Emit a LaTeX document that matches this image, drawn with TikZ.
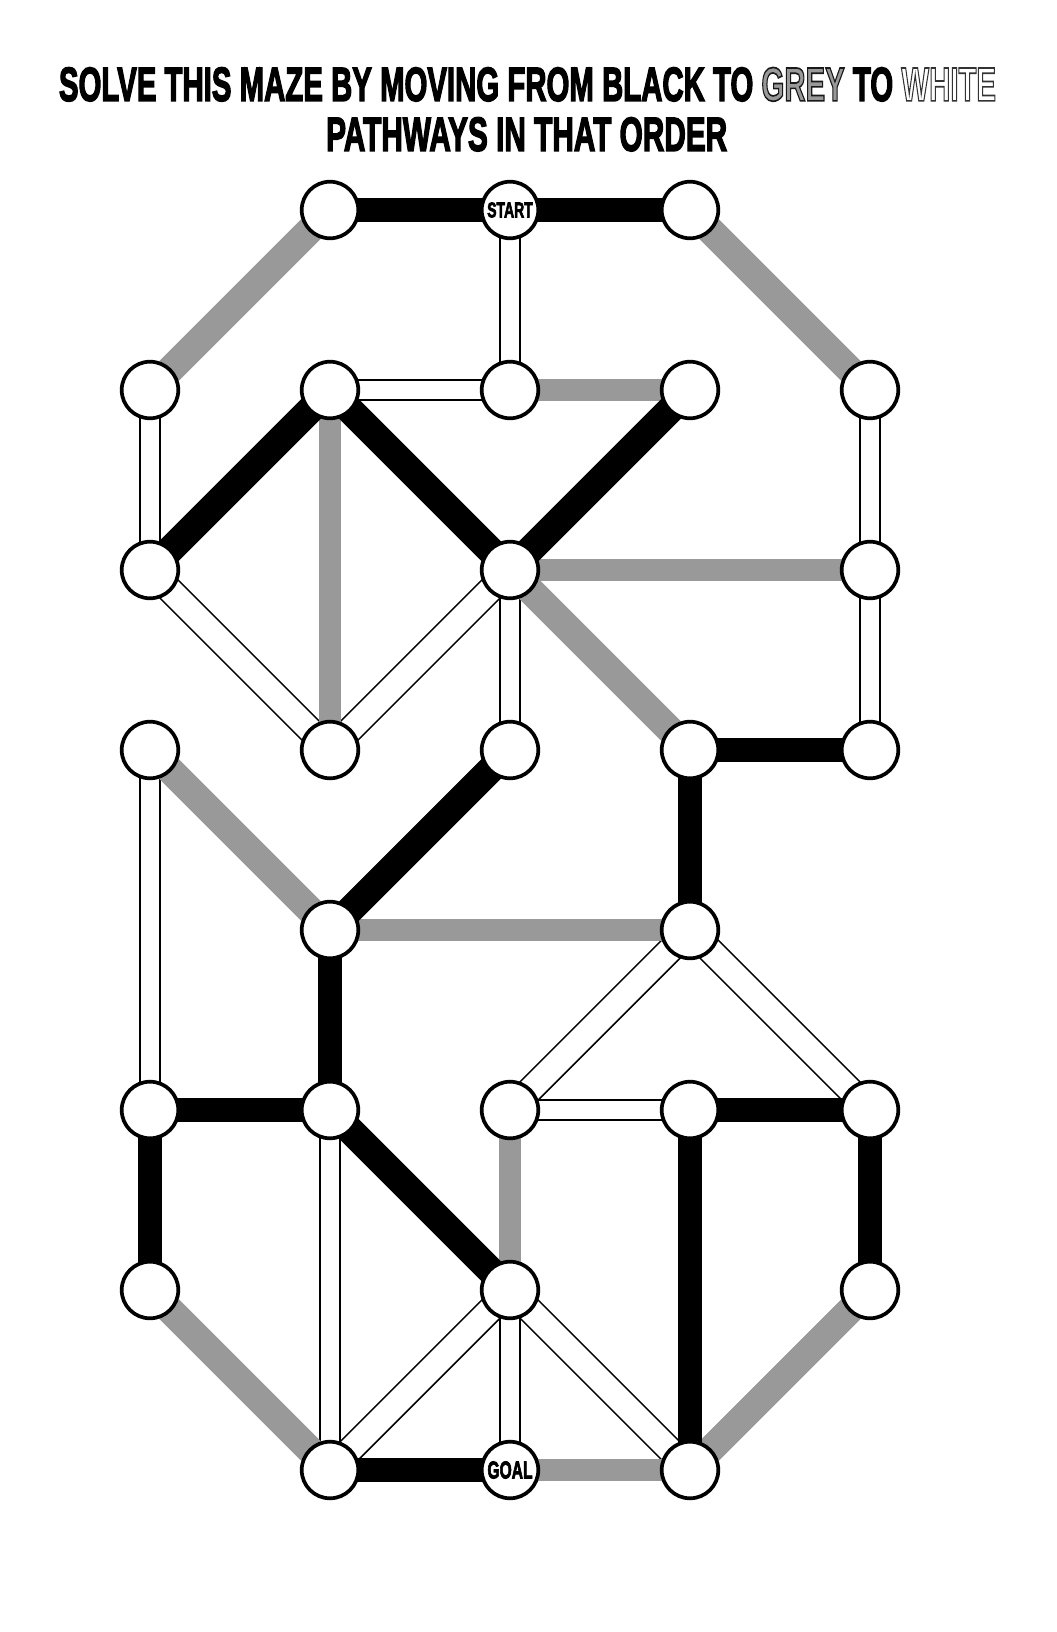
\documentclass[tikz,border=0pt]{standalone}
\usepackage{fontspec}
\setmainfont{Liberation Sans}
\newfontface\heavy{Liberation Sans Bold}[FakeBold=3.5]
\usetikzlibrary{backgrounds}
\definecolor{pathgrey}{HTML}{999999}
\newcommand\ringed[4]{{\color{#1}\special{pdf:literal direct #2 RG #3 w 2 Tr}#4\special{pdf:literal direct 0 Tr}}}
\tikzset{
  spot/.style={circle,draw,line width=1.85pt,fill=white,minimum size=28.3pt,inner sep=0pt,font=\heavy},
  blackway/.style={line width=11.6pt},
  greyway/.style={line width=11.2pt,pathgrey},
  whiteway/.style={line width=0.85pt,double=white,double distance=9.2pt},
  slanted/.style={line width=13.8pt},
  whiteslant/.style={line width=0.8pt,double=white,double distance=12pt},
  heading/.style={inner sep=0pt,font=\heavy}
}

\begin{document}
\begin{tikzpicture}[x=0.5pt,y=-0.5pt]
\useasboundingbox (0,0) rectangle (1056,1632);
\node[heading] (line1) at (527.5,84.4) {\resizebox{468.5pt}{16.7pt}{SOLVE THIS MAZE BY MOVING FROM BLACK TO \ringed{pathgrey}{0.1 0.1 0.1}{1.2}{GREY} TO \ringed{white}{0.2 0.2 0.2}{1.7}{WHITE}}};
\node[heading] (line2) at (526.7,134.3) {\resizebox{200.5pt}{16.7pt}{PATHWAYS IN THAT ORDER}};
\foreach \col/\row in {1/0,3/0,0/1,1/1,2/1,3/1,4/1,0/2,2/2,4/2,0/3,1/3,2/3,3/3,4/3,1/4,3/4,
                       0/5,1/5,2/5,3/5,4/5,0/6,2/6,4/6,1/7,3/7}
  \node[spot] (n\col\row) at ({150+180*\col},{210+180*\row}) {};
\node[spot] (n20) at (510,210) {\resizebox{22.75pt}{7.5pt}{START}};
\node[spot] (n27) at (510,1470) {\resizebox{22.5pt}{8.5pt}{GOAL}};
\begin{scope}[on background layer]
\foreach \a/\b in {n20/n21,n11/n21,n01/n02,n41/n42,n42/n43,n22/n23,n03/n05,n25/n35,n15/n17,n26/n27}
  \draw[whiteway] (\a.center) -- (\b.center);
\foreach \a/\b in {n02/n13,n22/n13,n34/n25,n34/n45,n26/n17,n26/n37}
  \draw[whiteslant] (\a.center) -- (\b.center);
\foreach \a/\b in {n21/n31,n11/n13,n22/n42,n14/n34,n25/n26,n27/n37}
  \draw[greyway] (\a.center) -- (\b.center);
\foreach \a/\b in {n10/n01,n30/n41,n22/n33,n03/n14,n06/n17,n46/n37}
  \draw[greyway,slanted] (\a.center) -- (\b.center);
\foreach \a/\b in {n10/n20,n20/n30,n33/n43,n33/n34,n14/n15,n05/n15,n05/n06,n35/n45,n35/n37,n45/n46,n17/n27}
  \draw[blackway] (\a.center) -- (\b.center);
\foreach \a/\b in {n11/n02,n11/n22,n31/n22,n23/n14,n15/n26}
  \draw[blackway,slanted] (\a.center) -- (\b.center);
\end{scope}
\end{tikzpicture}
\end{document}
